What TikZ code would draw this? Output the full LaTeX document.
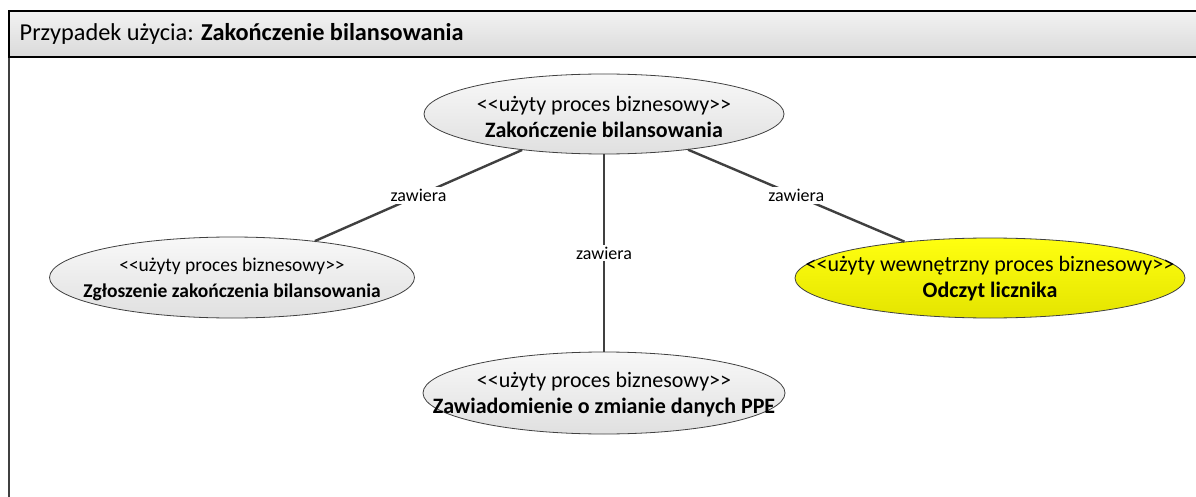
\documentclass[tikz,border=0pt]{standalone}
\usepackage{fontspec}
\setmainfont{Carlito}[Ligatures=TeXOff]
\usetikzlibrary{shapes.geometric}
\definecolor{linegray}{HTML}{404040}
\definecolor{hdtop}{HTML}{F2F2F2}
\definecolor{hdbot}{HTML}{DADADA}
\definecolor{eltop}{HTML}{F8F8F8}
\definecolor{elbot}{HTML}{E0E0E0}
\definecolor{yltop}{HTML}{FFFF10}
\definecolor{ylbot}{HTML}{E4E400}
\tikzset{
  usecase/.style={ellipse, draw=linegray, line width=0.8pt, inner sep=0pt,
    top color=eltop, bottom color=elbot},
  internal/.style={usecase, top color=yltop, bottom color=ylbot},
  uctext/.style={align=center, inner sep=0pt, font=\fontsize{22}{26}\selectfont},
  uctextsm/.style={align=center, inner sep=0pt, font=\fontsize{19.5}{26}\selectfont},
  conn/.style={draw=linegray, line width=2.4pt},
  lbl/.style={fill=white, inner sep=2pt, font=\fontsize{18}{20}\selectfont}
}
\begin{document}
\begin{tikzpicture}[x=1pt,y=-1pt]
\useasboundingbox (0,0) rectangle (1196,497);
% frame
\fill[white] (0,0) rectangle (1196,497);
\draw[linegray, line width=2pt] (9,505) -- (9,57);
\shade[top color=hdtop, bottom color=hdbot] (9,11) rectangle (1205,57);
\draw[black, line width=2pt] (1205,11) -- (9,11) -- (9,57) -- (1205,57);
\node[anchor=west, inner sep=0pt, font=\fontsize{24.3}{28}\selectfont] (title) at (19.5,34) {Przypadek użycia: \textbf{Zakończenie bilansowania}};
% use cases
\node[usecase, minimum width=360pt, minimum height=80pt] (main) at (604,114) {};
\node[uctext] (main-t) at (604,117) {<<użyty proces biznesowy>>\\\textbf{Zakończenie bilansowania}};
\node[usecase, minimum width=365pt, minimum height=81pt] (left) at (232,277.5) {};
\node[uctextsm] (left-t) at (232,279) {<<użyty proces biznesowy>>\\\textbf{Zgłoszenie zakończenia bilansowania}};
\node[usecase, minimum width=362pt, minimum height=82pt] (bottom) at (604,393) {};
\node[uctext] (bottom-t) at (604,395) {<<użyty proces biznesowy>>\\\textbf{Zawiadomienie o zmianie danych PPE}};
\node[internal, minimum width=390pt, minimum height=80pt] (right) at (990,278) {};
\node[uctext] (right-t) at (990,279) {<<użyty wewnętrzny proces biznesowy>>\\\textbf{Odczyt licznika}};
% connectors
\draw[conn] (main) -- node[lbl] (l1) {zawiera} (left);
\draw[conn] (main.south) -- node[lbl] (l2) {zawiera} (main.south |- bottom.north);
\draw[conn] (main) -- node[lbl] (l3) {zawiera} (right);
\end{tikzpicture}
\end{document}
